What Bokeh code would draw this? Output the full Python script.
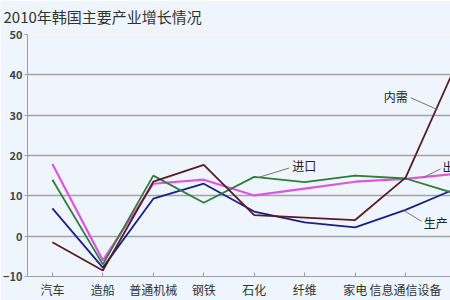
from bokeh.plotting import figure
from bokeh.models import Range1d, FixedTicker, Label, Title
from bokeh.embed import file_html
from bokeh.resources import INLINE

categories = ["汽车", "造船", "普通机械", "钢铁", "石化", "纤维", "家电", "信息通信设备", "半导体"]
production = [6.9, -7.8, 9.3, 13.0, 6.1, 3.4, 2.2, 6.5, 11.8]
exports = [17.9, -6.0, 13.0, 14.0, 10.1, 11.8, 13.5, 14.2, 15.5]
imports = [14.0, -7.0, 15.0, 8.3, 14.7, 13.4, 15.0, 14.3, 10.5]
domestic = [-1.5, -8.5, 13.5, 17.7, 5.2, 4.6, 4.0, 14.5, 42.5]
y_ticks = [-10, 0, 10, 20, 30, 40, 50]
title_text = "2010年韩国主要产业增长情况"

FONT = "Noto Sans CJK SC"
BG = "#eef5fc"
STEP = 50.7

p = figure(width=450, height=300, output_backend="svg", toolbar_location=None, title=None,
           x_range=Range1d(-25 / STEP, 400 / STEP), y_range=Range1d(-10, 50),
           min_border_left=25, min_border_right=0, min_border_top=34, min_border_bottom=21,
           background_fill_color=BG, border_fill_color=BG, outline_line_color=None)

p.add_layout(Title(text=" ", text_font_size="6px", standoff=0, offset=0), "above")
p.add_layout(Title(text=title_text, text_font=FONT, text_font_size="15px",
                   text_font_style="normal", text_color="#333333", align="left",
                   offset=-24, standoff=0), "above")

xs = list(range(len(categories)))

p.xaxis.ticker = FixedTicker(ticks=xs)
p.xaxis.major_label_overrides = {i: c for i, c in enumerate(categories)}
p.xaxis.major_label_text_font = FONT
p.xaxis.major_label_text_font_size = "12px"
p.xaxis.major_label_text_color = "#333333"
p.xaxis.major_tick_in = 4
p.xaxis.major_tick_out = 0
p.xaxis.minor_tick_line_color = None
p.xaxis.axis_line_color = "#9aa0a6"
p.xaxis.major_tick_line_color = "#9aa0a6"
p.xaxis.major_label_standoff = 4

p.yaxis.ticker = FixedTicker(ticks=y_ticks)
p.yaxis.major_label_text_font = FONT
p.yaxis.major_label_text_font_size = "11px"
p.yaxis.major_label_text_font_style = "bold"
p.yaxis.major_label_text_color = "#444444"
p.yaxis.major_tick_in = 0
p.yaxis.major_tick_out = 3
p.yaxis.minor_tick_line_color = None
p.yaxis.axis_line_color = "#9aa0a6"
p.yaxis.major_tick_line_color = "#9aa0a6"
p.yaxis.major_label_standoff = 2

p.xgrid.grid_line_color = None
p.ygrid.grid_line_color = "#a0a4a8"
p.ygrid.grid_line_width = 1.5

p.line(xs, production, line_color="#1c1f86", line_width=1.8)
p.line(xs, exports, line_color="#e055e0", line_width=2.2)
p.line(xs, imports, line_color="#2e7d3a", line_width=1.8)
p.line(xs, domestic, line_color="#5a1a28", line_width=1.8)

def dx(px):
    return (px - 50) / STEP

def dy(py):
    return (238 - py) / 4.08

# leader lines
p.segment(x0=[dx(410), dx(288), dx(440), dx(421)],
          y0=[dy(98), dy(169), dy(170), dy(223)],
          x1=[dx(437), dx(256), dx(422), dx(403)],
          y1=[dy(110), dy(179), dy(179), dy(212)],
          line_color="#777777", line_width=1)

for txt, px, py in [("内需", 383, 97), ("进口", 291, 167), ("出口", 442, 168), ("生产", 423, 224)]:
    p.add_layout(Label(x=dx(px), y=dy(py), text=txt, text_font=FONT, text_font_size="12px",
                       text_color="#222222", text_baseline="middle", text_align="left"))

open("out.html", "w").write(file_html(p, INLINE))
